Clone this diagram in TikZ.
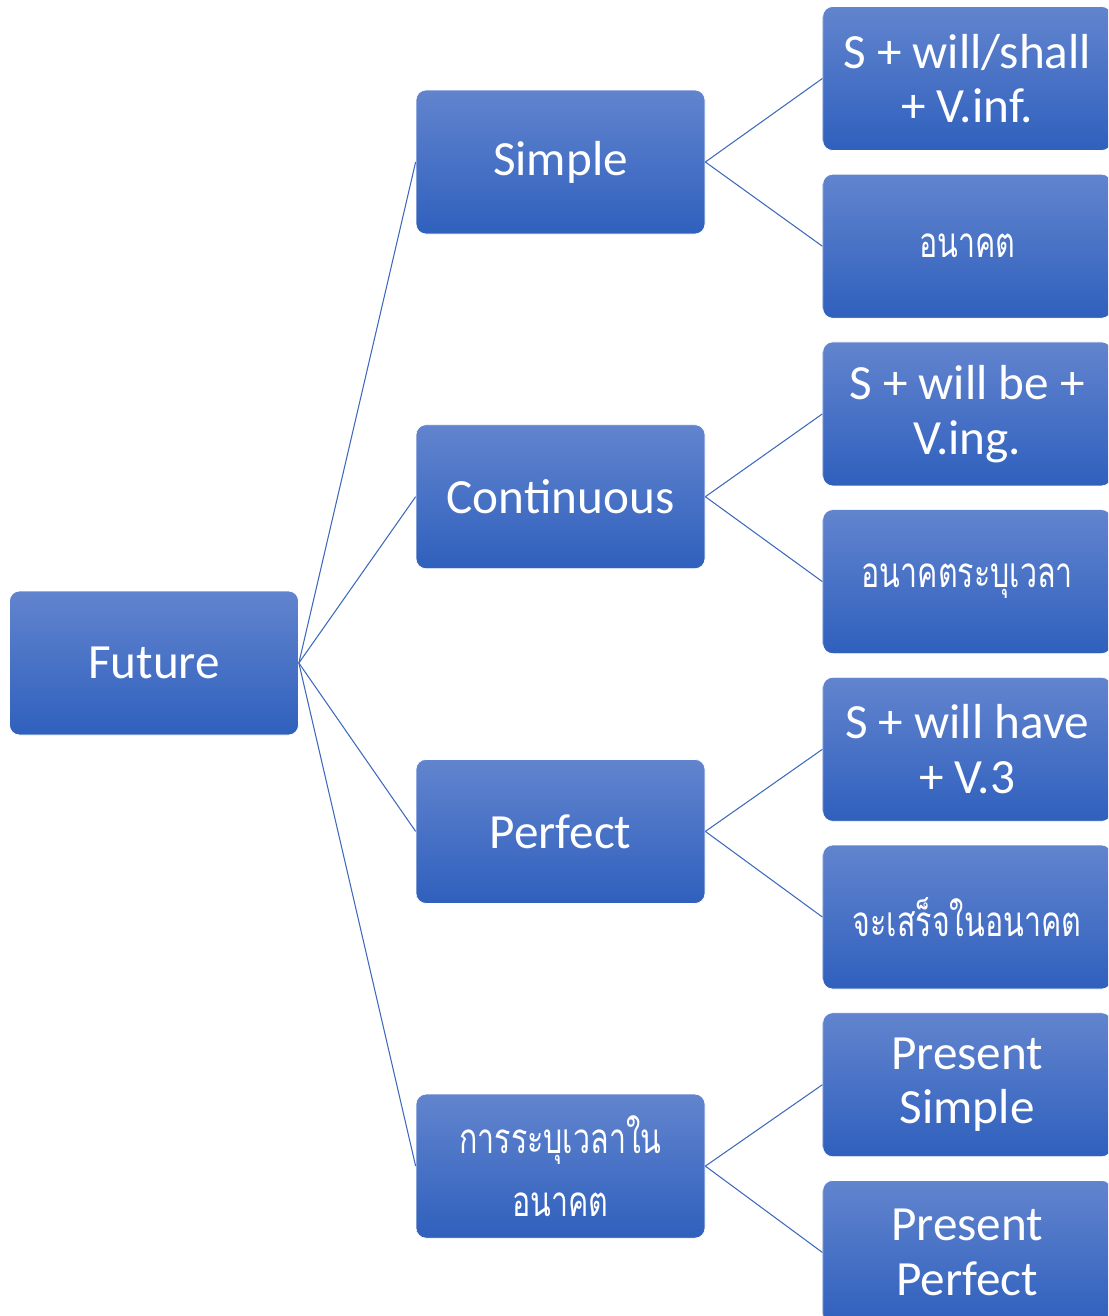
\documentclass[tikz,border=0pt]{standalone}
\usepackage{fontspec}
\setmainfont{Carlito}
\newfontfamily\thaifont[Script=Thai, FakeStretch=0.72]{Loma}
\usetikzlibrary{positioning}
\definecolor{box-top}{RGB}{98,132,206}
\definecolor{box-bot}{RGB}{47,96,189}
\definecolor{link-blue}{RGB}{62,104,190}

\begin{document}
\begin{tikzpicture}
    [rect/.style = {rectangle, draw=white, line width=0.4pt, align=center,
            top color=box-top, bottom color=box-bot, text=white,
            minimum width=5.78cm, minimum height=2.88cm, rounded corners=0.2cm,
            font=\fontsize{28}{31}\selectfont},
    thai/.style = {font=\thaifont\fontsize{24}{36}\selectfont},
    link/.style = {draw=link-blue, line width=0.6pt},
    ]

    \useasboundingbox (0,0) rectangle (22.16,-26.32);
    \clip (0,0) rectangle (22.16,-26.32);

	\node[rect] (future) at (3.08, -13.26) {Future};

	\node[rect] (simple) at (11.21, -3.24) {Simple};
	\node[rect, below=3.8cm of simple] (cont) {Continuous};
	\node[rect, below=3.8cm of cont] (perf) {Perfect};
	\node[rect, below=3.8cm of perf, thai] (time) {การระบุเวลาใน\\อนาคต};


	\node[rect, right=2.34cm of simple, yshift=1.67cm] (simple-form) {S + will/shall\\+ V.inf.};
	\node[rect, below=0.46cm of simple-form, thai] (simple-th) {อนาคต};

	\node[rect, below=0.46cm of simple-th] (cont-form) {S + will be +\\V.ing.};
	\node[rect, below=0.46cm of cont-form, thai] (cont-th) {อนาคตระบุเวลา};

	\node[rect, below=0.46cm of cont-th] (perf-form) {S + will have\\+ V.3};
	\node[rect, below=0.46cm of perf-form, thai] (perf-th) {จะเสร็จในอนาคต};

	\node[rect, below=0.46cm of perf-th] (pres-simple) {Present\\Simple};
	\node[rect, below=0.46cm of pres-simple] (pres-perf) {Present\\Perfect};


	\foreach \n in {simple, cont, perf, time}
		\draw[link] (future.east) -- (\n.west);

	\draw[link] (simple.east) -- (simple-form.west);
	\draw[link] (simple.east) -- (simple-th.west);
	\draw[link] (cont.east) -- (cont-form.west);
	\draw[link] (cont.east) -- (cont-th.west);
	\draw[link] (perf.east) -- (perf-form.west);
	\draw[link] (perf.east) -- (perf-th.west);
	\draw[link] (time.east) -- (pres-simple.west);
	\draw[link] (time.east) -- (pres-perf.west);
\end{tikzpicture}
\end{document}
